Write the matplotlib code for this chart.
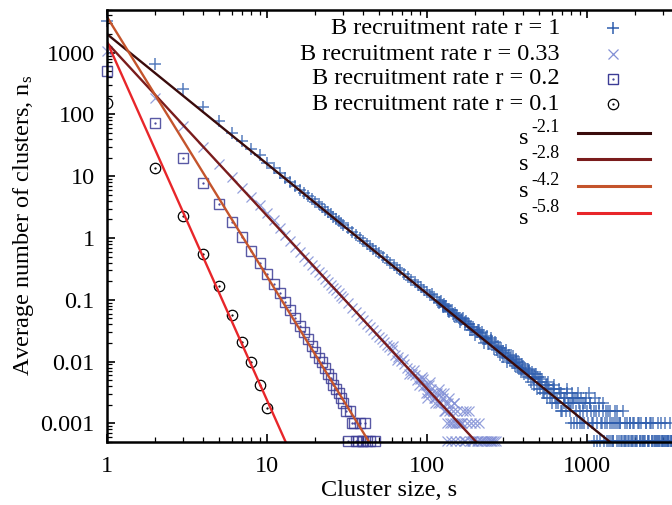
import matplotlib
matplotlib.use("Agg")
import matplotlib.pyplot as plt
import numpy as np
from matplotlib.ticker import FixedLocator, NullFormatter, LogLocator

plt.rcParams['font.family'] = ['Liberation Serif', 'DejaVu Serif']
plt.rcParams['mathtext.default'] = 'regular'

# --- data ---
# r = 1 (plus markers)
size_r1 = [1, 2, 3, 4, 5, 6, 7, 8, 9, 10, 11, 12, 13, 14, 15, 16, 17, 18, 19, 20,
           21, 22, 23, 24, 25, 26, 27, 28, 29, 30, 32, 34, 36, 38, 40, 42, 44, 46, 48, 50,
           53, 56, 59, 62, 65, 68, 72, 76, 80, 84, 88, 92, 96, 100,
           105, 110, 115, 120, 125, 130, 135, 140, 146, 152, 158, 165, 172, 180, 188, 196,
           205, 214, 224, 234, 245, 256, 268, 280, 293, 306, 320, 335, 350, 366, 383, 400,
           418, 437, 457, 478, 500, 523, 547, 572, 598, 625, 653, 683, 714, 746, 780, 815,
           852, 890, 930, 972, 1016, 1062, 1110, 1160, 1212, 1267, 1324, 1384, 1446, 1511,
           1579, 1650, 1724, 1802, 1883, 1968, 2056, 2149, 2245, 2346, 2452, 2562, 2677,
           2798, 2923, 3055, 3192, 3336,
           108, 118, 128, 138, 150, 162, 176, 192, 210, 230, 250, 274, 300, 328, 358, 392,
           428, 468, 512, 560, 612, 668, 730, 797, 870, 950, 1040, 1135, 1240, 1355, 1480,
           1615, 1765, 1925, 2100, 2300, 2500, 2740, 2990, 3270,
           540, 590, 640, 700, 760, 830, 910, 990, 1090, 1190, 1300, 1420, 1550, 1700, 1850,
           2020, 2200, 2400, 2620, 2860, 3120, 3400,
           122, 126, 132, 136, 143, 148, 155, 160, 168, 174, 183, 186, 194, 200, 207, 218,
           221, 228, 238, 242, 252, 262, 265, 276, 285, 290, 298, 310, 316, 325, 340, 345,
           355, 362, 372, 378, 388, 395, 405, 412, 425, 432, 445, 452, 465, 472, 485, 492,
           505, 515, 530, 552, 565, 580, 605, 618, 632, 660, 675, 690, 722, 738, 752, 770,
           790, 808, 822, 840, 860, 878, 900, 920, 940, 960, 1000, 1025, 1050, 1075, 1100,
           1125, 1150, 1180, 1225, 1250, 1285, 1310, 1340, 1370, 1400, 1440, 1460, 1500,
           1530, 1560, 1600, 1640, 1680, 1740, 1780, 1820, 1870, 1900, 1950, 2000, 2080,
           2130, 2180, 2270, 2330, 2420, 2480, 2550, 2600, 2700, 2760, 2830, 2900, 2960,
           3020, 3080, 3150, 3220, 3300, 3370]
ns_r1 = [3300, 665, 255, 130, 77, 51, 37, 28, 22, 16.5, 13.5, 11.2, 9.4, 8.1, 7.0, 6.1, 5.4, 4.8, 4.3, 3.85,
         3.5, 3.15, 2.88, 2.63, 2.42, 2.23, 2.06, 1.91, 1.78, 1.65, 1.44, 1.27, 1.12, 1.0, 0.9, 0.81, 0.74, 0.67, 0.62, 0.565,
         0.50, 0.445, 0.40, 0.36, 0.33, 0.30, 0.265, 0.237, 0.213, 0.192, 0.174, 0.159, 0.145, 0.133,
         0.118, 0.110, 0.098, 0.092, 0.083, 0.078, 0.071, 0.068, 0.060, 0.057, 0.051, 0.049, 0.043, 0.041, 0.036, 0.034,
         0.030, 0.029, 0.025, 0.024, 0.020, 0.0205, 0.017, 0.0168, 0.0138, 0.0140, 0.0115, 0.0118, 0.0094, 0.0099, 0.0080, 0.0084,
         0.0066, 0.0070, 0.0055, 0.0062, 0.0046, 0.0052, 0.0036, 0.0047, 0.0031, 0.0042, 0.0026, 0.0031, 0.0021, 0.0031, 0.0016, 0.0026,
         0.0016, 0.0021, 0.0010, 0.0021, 0.0010, 0.0016, 0.00052, 0.0010, 0.00052, 0.0016, 0.00052, 0.0010, 0.00052, 0.0010,
         0.00052, 0.00052, 0.0010, 0.00052, 0.00052, 0.0010, 0.00052, 0.00052, 0.00052, 0.0010, 0.00052, 0.00052, 0.00052,
         0.00052, 0.00052, 0.00052, 0.00052, 0.00052,
         0.125, 0.090, 0.085, 0.064, 0.062, 0.047, 0.045, 0.033, 0.032, 0.023, 0.022, 0.0155, 0.0150, 0.0108, 0.0105, 0.0074,
         0.0077, 0.0052, 0.0057, 0.0042, 0.0036, 0.0036, 0.0026, 0.0021, 0.0026, 0.0016, 0.0021, 0.0016, 0.0010, 0.0016, 0.0010,
         0.0010, 0.00052, 0.00052, 0.0010, 0.00052, 0.0010, 0.00052, 0.00052, 0.00052,
         0.0031, 0.0026, 0.0021, 0.0016, 0.0021, 0.0010, 0.0010, 0.0026, 0.0010, 0.0021, 0.0010, 0.00052, 0.0016, 0.00052, 0.0010,
         0.00052, 0.00052, 0.00052, 0.00052, 0.00052, 0.00052, 0.00052,
         0.095, 0.077, 0.080, 0.066, 0.068, 0.055, 0.054, 0.044, 0.050, 0.040, 0.041, 0.033, 0.037, 0.027, 0.033, 0.025,
         0.030, 0.020, 0.026, 0.019, 0.024, 0.016, 0.021, 0.018, 0.013, 0.0165, 0.012, 0.0155, 0.010, 0.0130, 0.0096, 0.0125,
         0.0085, 0.0110, 0.0078, 0.0100, 0.0068, 0.0092, 0.0062, 0.0080, 0.0057, 0.0074, 0.0047, 0.0068, 0.0042, 0.0062, 0.0036, 0.0057,
         0.0036, 0.0047, 0.0031, 0.0042, 0.0026, 0.0036, 0.0021, 0.0036, 0.0026, 0.0021, 0.0031, 0.0016, 0.0026, 0.0016, 0.0036, 0.0021,
         0.0010, 0.0031, 0.0021, 0.0026, 0.0010, 0.0031, 0.0016, 0.0026, 0.0021, 0.0010, 0.0016, 0.0031, 0.0021, 0.0010, 0.0016,
         0.0026, 0.00052, 0.0016, 0.0010, 0.0021, 0.00052, 0.0016, 0.0010, 0.00052, 0.0016, 0.0010, 0.00052, 0.0016,
         0.00052, 0.0010, 0.0010, 0.00052, 0.0016, 0.00052, 0.0010, 0.00052, 0.0010, 0.00052, 0.0010, 0.00052, 0.0010,
         0.00052, 0.0010, 0.00052, 0.0010, 0.00052, 0.0010, 0.00052, 0.0010, 0.00052, 0.0010, 0.00052, 0.0010, 0.00052,
         0.00052, 0.0010, 0.00052, 0.00052, 0.0010, 0.00052]

# r = 0.33 (cross markers)
size_r033 = [1, 2, 3, 4, 5, 6, 7, 8, 9, 10, 11, 12, 13, 14, 15, 16, 17, 18, 19, 20,
             21, 22, 23, 24, 25, 26, 27, 28, 29, 30, 32, 34, 36, 38, 40, 42, 44, 46, 48, 50,
             52, 54, 56, 58, 60, 63, 66, 69, 72, 75, 78, 81, 84, 87, 90, 94, 98, 102, 106, 110,
             115, 120, 125, 130, 135, 140, 145, 150, 155, 160, 165, 172, 178, 185, 192, 200,
             208, 218, 228, 240, 252, 262,
             61, 65, 71, 77, 83, 89, 93, 100, 104, 112, 118, 128, 133, 138, 148, 158, 168,
             182, 195, 134, 142, 150,
             95, 99, 103, 108, 113, 117, 122, 127, 132, 137, 143, 147, 153, 163, 170, 175,
             188, 205, 212, 222, 235, 246, 256, 270]
ns_r033 = [1050, 188, 65, 30, 15.5, 9.6, 6.4, 4.6, 3.4, 2.5, 1.95, 1.45, 1.1, 0.88, 0.72, 0.60, 0.50, 0.43, 0.37, 0.32,
           0.28, 0.25, 0.22, 0.195, 0.175, 0.157, 0.142, 0.128, 0.117, 0.107, 0.089, 0.075, 0.064, 0.055, 0.047, 0.041, 0.036, 0.032, 0.028, 0.025,
           0.023, 0.0205, 0.0185, 0.017, 0.0155, 0.013, 0.0118, 0.0102, 0.0092, 0.0079, 0.0074, 0.0063, 0.0060, 0.0050, 0.0052, 0.0041, 0.0042, 0.0031, 0.0036, 0.0026,
           0.0031, 0.0021, 0.0026, 0.0016, 0.0021, 0.0010, 0.0016, 0.0010, 0.0016, 0.00052, 0.0010, 0.00052, 0.0010, 0.00052, 0.00052, 0.0010,
           0.00052, 0.00052, 0.00052, 0.00052, 0.00052, 0.00052,
           0.018, 0.0105, 0.011, 0.0062, 0.0072, 0.0042, 0.0057, 0.0026, 0.0047, 0.0021, 0.0036, 0.0031, 0.0010, 0.0026, 0.0021, 0.0010, 0.0016,
           0.0016, 0.00052, 0.00052, 0.00052, 0.00052,
           0.0052, 0.0031, 0.0042, 0.0031, 0.0026, 0.0021, 0.0031, 0.0016, 0.0021, 0.0016, 0.0010, 0.0021, 0.0010, 0.0010, 0.00052, 0.0016,
           0.0010, 0.00052, 0.0010, 0.00052, 0.00052, 0.00052, 0.00052, 0.00052]

# r = 0.2 (squares)
size_r02 = list(range(1, 43)) + [44, 47]
ns_r02 = [513, 72, 20, 7.7, 3.5, 1.8, 1.04, 0.62, 0.40, 0.26, 0.18, 0.13, 0.092, 0.068, 0.050, 0.038, 0.030, 0.023, 0.018, 0.0145,
          0.0115, 0.0098, 0.0078, 0.0062, 0.0055, 0.0042, 0.0036, 0.0031, 0.0026, 0.0021, 0.0016, 0.00052, 0.0016, 0.0010, 0.0010,
          0.00052, 0.00052, 0.0010, 0.00052, 0.00052, 0.0010, 0.00052, 0.00052, 0.00052]

# r = 0.1 (circles)
size_r01 = [1, 2, 3, 4, 5, 6, 7, 8, 9, 10]
ns_r01 = [155, 13.5, 2.3, 0.55, 0.168, 0.057, 0.021, 0.010, 0.0042, 0.0018]

# power-law guides: amplitude, exponent, last size drawn
fit_amp = [2000, 1450, 3800, 1500]
fit_exp = [2.1, 2.8, 4.2, 5.8]
fit_end = [1400, 210, 46, 14]
fit_colors = ['#3a0b0b', '#7a1c1c', '#c4542c', '#e8262a']

series_labels = ['B recruitment rate r = 1', 'B recruitment rate r = 0.33',
                 'B recruitment rate r = 0.2', 'B recruitment rate r = 0.1']

W, H = 672, 505
fig = plt.figure(figsize=(W / 100, H / 100), dpi=100)
ax = fig.add_axes([107 / W, 63 / H, 565 / W, 432.5 / H])

c1, c2, c3, c4 = '#2f5eae', '#8290d6', '#3c3c96', 'black'
ax.plot(size_r1, ns_r1, '+', color=c1, alpha=0.8, ms=9, mew=1.1, zorder=2, clip_on=False)
ax.plot(size_r033, ns_r033, 'x', color=c2, alpha=0.85, ms=6.5, mew=0.9, zorder=2, clip_on=False)
ax.plot(size_r02, ns_r02, 's', mfc='none', mec=c3, alpha=0.85, ms=7.5, mew=1.0, zorder=3, clip_on=False)
ax.plot(size_r02, ns_r02, '.', color=c3, ms=1.2, zorder=3)
ax.plot(size_r01, ns_r01, 'o', mfc='none', mec=c4, ms=7.5, mew=0.9, zorder=3)
ax.plot(size_r01, ns_r01, '.', color=c4, ms=1.2, zorder=3)

for a, e, end, col in zip(fit_amp, fit_exp, fit_end, fit_colors):
    s = np.array([1.0, end])
    ax.plot(s, a * s ** (-e), '-', color=col, lw=1.7, zorder=4)

ax.set_xscale('log')
ax.set_yscale('log')
ax.set_xlim(1, 10 ** (565 / 160))
ax.set_ylim(5e-4, 5000)

ax.xaxis.set_major_locator(FixedLocator([1, 10, 100, 1000]))
ax.set_xticklabels(['1', '10', '100', '1000'])
ax.xaxis.set_minor_locator(LogLocator(base=10, subs=np.arange(2, 10)))
ax.xaxis.set_minor_formatter(NullFormatter())
ax.yaxis.set_major_locator(FixedLocator([0.001, 0.01, 0.1, 1, 10, 100, 1000]))
ax.set_yticklabels(['0.001', '0.01', '0.1', '1', '10', '100', '1000'])
ax.yaxis.set_minor_locator(LogLocator(base=10, subs=np.arange(2, 10)))
ax.yaxis.set_minor_formatter(NullFormatter())

ax.tick_params(which='both', direction='in', top=True, right=False, labelsize=17.5, colors='black')
ax.tick_params(which='major', length=6, width=1.2)
ax.tick_params(which='minor', length=3.5, width=0.9)
ax.tick_params(axis='x', which='major', pad=10)
ax.tick_params(axis='y', which='major', pad=9)
for side in ['left', 'bottom', 'top']:
    ax.spines[side].set_linewidth(1.8)
    ax.spines[side].set_zorder(5)
ax.spines['right'].set_visible(False)

ax.set_xlabel('Cluster size, s', fontsize=17.5, va='center')
ax.xaxis.set_label_coords(0.5, (442 - 490) / 432.5)
ax.set_ylabel('Average number of clusters, n$_s$', fontsize=17.5, va='center')
ax.yaxis.set_label_coords((24 - 107) / 565, 0.5)


# legend drawn by hand in pixel positions (gnuplot style: text right, sample left)
def fx(px):
    return px / W


def fy(py):
    return 1 - py / H


row_y = [28, 54, 79, 104]
mk = [('+', c1, dict(ms=9, mew=1.1)), ('x', c2, dict(ms=6.5, mew=0.9)),
      ('s', c3, dict(ms=7.5, mew=1.0, mfc='none')), ('o', c4, dict(ms=7.5, mew=0.9, mfc='none'))]
for yy, lab, (m, col, kw) in zip(row_y, series_labels, mk):
    fig.text(fx(560), fy(yy), lab, ha='right', va='center', fontsize=17.5)
    ax.plot([fx(613)], [fy(yy)], m, color=col, mec=col, transform=fig.transFigure, clip_on=False, **kw)
    if m in ('s', 'o'):
        ax.plot([fx(613)], [fy(yy)], '.', color=col, ms=1.2, transform=fig.transFigure, clip_on=False)

line_y = [133, 159, 186, 213]
for yy, e, col in zip(line_y, fit_exp, fit_colors):
    fig.text(fx(531), fy(yy - 1), '-%g' % e, ha='left', va='baseline', fontsize=13)
    fig.text(fx(529), fy(yy + 11), 's', ha='right', va='baseline', fontsize=17.5)
    ax.plot([fx(578), fx(650)], [fy(yy), fy(yy)], '-', color=col, lw=2.2,
            transform=fig.transFigure, clip_on=False)

fig.savefig('out.png', dpi=100)
